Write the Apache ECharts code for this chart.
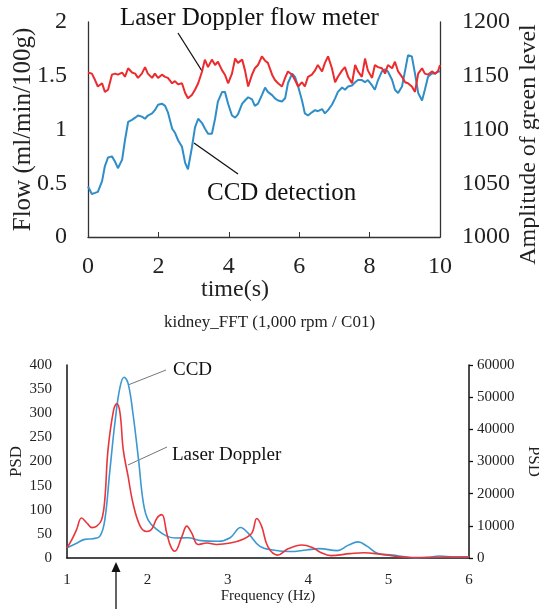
<!DOCTYPE html>
<html><head><meta charset="utf-8">
<script src="https://cdn.jsdelivr.net/npm/echarts@6/dist/echarts.min.js"></script>
<style>html,body{margin:0;padding:0;background:#fff}#c{width:539px;height:609px}</style>
</head><body><div id="c"></div>
<script>
// ---- Top panel: time series ----
var timeS = [0.00,0.11,0.20,0.28,0.40,0.48,0.57,0.68,0.77,0.85,
0.97,1.05,1.14,1.25,1.34,1.42,1.53,1.62,1.70,1.82,
1.90,1.99,2.10,2.19,2.27,2.39,2.47,2.56,2.67,2.76,
2.84,2.95,3.04,3.13,3.24,3.32,3.41,3.52,3.61,3.69,
3.81,3.89,3.98,4.09,4.18,4.26,4.38,4.46,4.55,4.66,
4.74,4.83,4.94,5.03,5.11,5.23,5.31,5.40,5.51,5.60,
5.68,5.80,5.88,5.97,6.08,6.16,6.25,6.36,6.45,6.53,
6.65,6.73,6.82,6.93,7.02,7.10,7.22,7.30,7.39,7.50,
7.59,7.67,7.78,7.87,7.95,8.07,8.15,8.24,8.35,8.44,
8.52,8.64,8.72,8.81,8.92,9.01,9.09,9.20,9.29,9.38,
9.49,9.57,9.66,9.77,9.86,9.94,10.00];
var laserFlow = [1.53,1.52,1.46,1.40,1.43,1.35,1.37,1.51,1.52,1.51,
1.53,1.49,1.57,1.53,1.52,1.48,1.52,1.58,1.52,1.48,
1.52,1.48,1.51,1.49,1.48,1.43,1.45,1.42,1.43,1.34,
1.29,1.32,1.37,1.43,1.54,1.65,1.58,1.65,1.60,1.63,
1.55,1.51,1.43,1.52,1.66,1.62,1.65,1.55,1.40,1.51,
1.57,1.60,1.68,1.64,1.62,1.51,1.46,1.43,1.40,1.48,
1.54,1.51,1.46,1.40,1.44,1.40,1.49,1.51,1.55,1.60,
1.54,1.62,1.68,1.57,1.44,1.49,1.55,1.58,1.49,1.43,
1.60,1.54,1.49,1.66,1.55,1.48,1.60,1.58,1.57,1.52,
1.60,1.57,1.63,1.54,1.49,1.44,1.43,1.40,1.35,1.52,
1.57,1.52,1.51,1.54,1.52,1.54,1.60];
var ccdGreen = [1047,1040,1041,1042,1052,1066,1074,1075,1070,1064,
1072,1090,1107,1109,1111,1113,1112,1110,1113,1115,
1118,1123,1124,1122,1116,1101,1097,1090,1084,1069,
1063,1083,1102,1110,1106,1101,1096,1096,1110,1126,
1135,1135,1124,1113,1111,1114,1124,1127,1130,1128,
1122,1124,1132,1139,1135,1132,1129,1127,1126,1129,
1143,1152,1149,1140,1127,1115,1113,1116,1118,1117,
1119,1115,1118,1123,1129,1135,1139,1137,1140,1141,
1144,1146,1146,1144,1146,1141,1137,1146,1154,1156,
1154,1146,1137,1134,1140,1155,1169,1168,1152,1134,
1127,1137,1149,1152,1152,1154,1154];

// ---- Bottom panel: FFT ----
var freqCCD = [1.00,1.12,1.22,1.32,1.41,1.47,1.53,1.60,1.66,1.71,1.76,1.82,1.89,1.95,2.01,2.12,2.24,2.36,2.50,2.67,2.88,3.03,3.16,3.25,3.40,3.56,3.77,3.98,4.14,4.36,4.50,4.62,4.73,4.86,5.05,5.23,5.35,5.48,5.64,5.80,6.00];
var psdCCD = [3200,4600,5800,6000,6800,11800,26400,42900,53200,56200,54300,45000,30500,17100,11800,8800,6800,6200,6300,5400,5200,6300,9500,7800,3600,2500,2000,2500,2900,2300,4000,5000,3700,1500,900,300,0,200,600,300,400];
var freqLaser = [1.00,1.06,1.12,1.18,1.25,1.31,1.37,1.43,1.47,1.51,1.58,1.62,1.66,1.70,1.76,1.82,1.91,1.99,2.05,2.12,2.18,2.24,2.29,2.34,2.43,2.49,2.55,2.63,2.74,2.86,3.03,3.19,3.30,3.36,3.42,3.50,3.62,3.75,3.92,4.05,4.15,4.28,4.52,4.69,4.89,5.11,5.27,5.52,5.77,6.00];
var psdLaser = [21,38,59,83,72,63,66,79,121,224,307,320,300,224,169,114,66,55,59,83,90,52,24,14,45,66,52,28,31,28,31,39,52,82,66,23,6,19,27,22,12,5,9,11,8,3,1,1,2,2];

var SERIF = "'Times New Roman','Liberation Serif','DejaVu Serif',serif";
var RED = '#ec2b2e', BLUE = '#2f8dc8';
function pairs(xs, ys){ return xs.map(function(x,i){return [x, ys[i]];}); }
function plain(v){ return String(v); }

var chart = echarts.init(document.getElementById('c'), null, {renderer:'canvas'});
var axisTop = {lineStyle:{color:'#333', width:1.3}};
var axisBot = {lineStyle:{color:'#111', width:1.5}};
chart.setOption({
  animation:false,
  backgroundColor:'#fff',
  title:{text:'kidney_FFT (1,000 rpm / C01)', left:'center', top:314,
    textStyle:{fontFamily:SERIF, fontSize:17, fontWeight:'normal', color:'#222'}, padding:[0,0,0,16]},
  grid:[{left:88, top:22, width:352, height:215, containLabel:false, outerBoundsMode:'none'},
        {left:67, top:365, width:402, height:193, containLabel:false, outerBoundsMode:'none'}],
  xAxis:[
    {gridIndex:0, type:'value', min:0, max:10, interval:2, axisLine:axisTop,
     axisTick:{show:true, inside:true, length:5, lineStyle:{color:'#333'}},
     axisLabel:{fontFamily:SERIF, fontSize:24, color:'#222', margin:18, formatter:plain},
     splitLine:{show:false},
     name:'time(s)', nameLocation:'middle', nameGap:41, nameMoveOverlap:false,
     nameTextStyle:{fontFamily:SERIF, fontSize:24, color:'#222', padding:[0,58,0,0]}},
    {gridIndex:1, type:'value', min:1, max:6, interval:1, axisLine:axisBot,
     axisTick:{show:false},
     axisLabel:{fontFamily:SERIF, fontSize:15, color:'#222', margin:15, formatter:plain},
     splitLine:{show:false},
     name:'Frequency (Hz)', nameLocation:'middle', nameGap:31, nameMoveOverlap:false,
     nameTextStyle:{fontFamily:SERIF, fontSize:15, color:'#222'}}
  ],
  yAxis:[
    {gridIndex:0, type:'value', min:0, max:2, interval:0.5, axisLine:{show:true, lineStyle:axisTop.lineStyle},
     axisTick:{show:false}, splitLine:{show:false},
     axisLabel:{fontFamily:SERIF, fontSize:24, color:'#222', margin:21, formatter:plain},
     name:'Flow (ml/min/100g)', nameLocation:'middle', nameGap:52, nameMoveOverlap:false,
     nameTextStyle:{fontFamily:SERIF, fontSize:25, color:'#222'}},
    {gridIndex:0, type:'value', position:'right', min:1000, max:1200, interval:50,
     axisLine:{show:true, lineStyle:axisTop.lineStyle},
     axisTick:{show:false}, splitLine:{show:false},
     axisLabel:{fontFamily:SERIF, fontSize:24, color:'#222', margin:22, formatter:plain},
     name:'Amplitude of green level', nameLocation:'middle', nameGap:77, nameRotate:90, nameMoveOverlap:false,
     nameTextStyle:{fontFamily:SERIF, fontSize:24, color:'#222', padding:[0,30,0,0]}},
    {gridIndex:1, type:'value', min:0, max:400, interval:50, axisLine:{show:true, lineStyle:axisBot.lineStyle},
     axisTick:{show:false}, splitLine:{show:false},
     axisLabel:{fontFamily:SERIF, fontSize:15, color:'#222', margin:15, formatter:plain},
     name:'PSD', nameLocation:'middle', nameGap:42, nameMoveOverlap:false,
     nameTextStyle:{fontFamily:SERIF, fontSize:17, color:'#222'}},
    {gridIndex:1, type:'value', position:'right', min:0, max:60000, interval:10000,
     axisLine:{show:true, lineStyle:axisBot.lineStyle},
     axisTick:{show:true, length:4, lineStyle:{color:'#111', width:1.3}}, splitLine:{show:false},
     axisLabel:{fontFamily:SERIF, fontSize:15, color:'#222', margin:8, formatter:plain},
     name:'PSD', nameLocation:'middle', nameGap:56, nameRotate:-90, nameMoveOverlap:false,
     nameTextStyle:{fontFamily:SERIF, fontSize:17, color:'#222'}}
  ],
  series:[
    {name:'Laser Doppler flow meter', type:'line', xAxisIndex:0, yAxisIndex:0, data:pairs(timeS, laserFlow),
     showSymbol:false, lineStyle:{color:RED, width:2}, itemStyle:{color:RED}, z:3},
    {name:'CCD detection', type:'line', xAxisIndex:0, yAxisIndex:1, data:pairs(timeS, ccdGreen),
     showSymbol:false, lineStyle:{color:BLUE, width:2}, itemStyle:{color:BLUE}, z:2},
    {name:'CCD', type:'line', xAxisIndex:1, yAxisIndex:3, data:pairs(freqCCD, psdCCD), smooth:0.4,
     showSymbol:false, lineStyle:{color:'#3b98d0', width:1.6}, itemStyle:{color:'#3b98d0'}, z:2},
    {name:'Laser Doppler', type:'line', xAxisIndex:1, yAxisIndex:2, data:pairs(freqLaser, psdLaser), smooth:0.4,
     showSymbol:false, lineStyle:{color:'#e8353b', width:1.6}, itemStyle:{color:'#e8353b'}, z:3}
  ],
  graphic:[
    {type:'text', left:120, top:6, style:{text:'Laser Doppler flow meter', font:'25px '+SERIF, fill:'#111'}},
    {type:'line', shape:{x1:178, y1:33, x2:202, y2:71}, style:{stroke:'#111', lineWidth:1.3}},
    {type:'text', left:207, top:181, style:{text:'CCD detection', font:'25px '+SERIF, fill:'#111'}},
    {type:'line', shape:{x1:194, y1:143, x2:238, y2:174}, style:{stroke:'#111', lineWidth:1.3}},
    {type:'text', left:173, top:361, style:{text:'CCD', font:'19px '+SERIF, fill:'#111'}},
    {type:'line', shape:{x1:128, y1:385, x2:166, y2:370}, style:{stroke:'#777', lineWidth:1}},
    {type:'text', left:172, top:446, style:{text:'Laser Doppler', font:'19px '+SERIF, fill:'#111'}},
    {type:'line', shape:{x1:128, y1:465, x2:167, y2:447}, style:{stroke:'#777', lineWidth:1}},
    {type:'line', shape:{x1:116, y1:570, x2:116, y2:609}, style:{stroke:'#111', lineWidth:1.3}},
    {type:'polygon', shape:{points:[[116,562],[111.5,572],[120.5,572]]}, style:{fill:'#111'}}
  ]
});
</script></body></html>
